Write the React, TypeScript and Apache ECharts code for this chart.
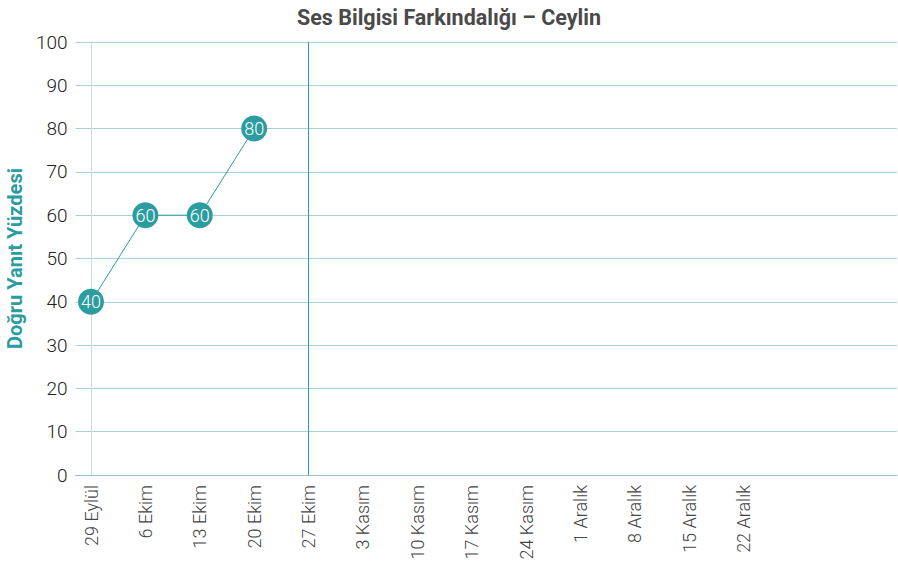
import React, { useEffect, useRef } from "react";
import * as echarts from "echarts";

const categories = [
  "29 Eylül", "6 Ekim", "13 Ekim", "20 Ekim", "27 Ekim", "3 Kasım", "10 Kasım",
  "17 Kasım", "24 Kasım", "1 Aralık", "8 Aralık", "15 Aralık", "22 Aralık",
];
const values = [40, 60, 60, 80];
const phaseLineIndex = 4;
const yTicks = [0, 10, 20, 30, 40, 50, 60, 70, 80, 90, 100];

const TEAL = "#2b9ca0";

export default function App() {
  const ref = useRef<HTMLDivElement>(null);
  useEffect(() => {
    if (!ref.current) return;
    const chart = echarts.init(ref.current, null, { renderer: "svg" });
    chart.setOption({
      animation: false,
      title: {
        text: "Ses Bilgisi Farkındalığı – Ceylin",
        left: "center",
        top: 1,
        textStyle: { fontFamily: "Roboto", fontWeight: "bold", fontSize: 21.5, color: "#4a4a4a" },
      },
      grid: { left: 75.5, top: 42, right: 1, bottom: 93, outerBoundsMode: "none", containLabel: false },
      xAxis: {
        type: "value",
        min: -0.285,
        max: 14.82,
        splitLine: { show: false },
        axisTick: { show: false },
        axisLine: { show: true, lineStyle: { color: "#9dbfc6", width: 1 } },
        axisLabel: {
          customValues: categories.map((_, i) => i),
          rotate: 90,
          margin: 10,
          fontFamily: "Roboto",
          fontWeight: 300,
          fontSize: 18,
          color: "#444",
          formatter: (v: number) => categories[Math.round(v)] ?? "",
        },
      },
      yAxis: {
        type: "value",
        min: yTicks[0],
        max: yTicks[yTicks.length - 1],
        interval: 10,
        name: "Doğru Yanıt Yüzdesi",
        nameLocation: "middle",
        nameRotate: 90,
        nameGap: 45,
        nameTextStyle: { fontFamily: "Roboto", fontWeight: "bold", fontSize: 20, color: TEAL },
        axisLine: { show: true, lineStyle: { color: "#c5dfe3", width: 1 } },
        axisTick: { show: false },
        splitLine: { lineStyle: { color: "#a9d0d5", width: 1 } },
        axisLabel: { fontFamily: "Roboto", fontWeight: 300, fontSize: 19, color: "#222", margin: 8 },
      },
      series: [
        {
          type: "line",
          data: values.map((v, i) => [i, v]),
          symbol: "circle",
          symbolSize: 26,
          itemStyle: { color: TEAL },
          lineStyle: { color: TEAL, width: 1 },
          label: {
            show: true,
            position: "inside",
            color: "#fff",
            fontFamily: "Roboto",
            fontWeight: 300,
            fontSize: 18,
          },
          markLine: {
            silent: true,
            symbol: "none",
            label: { show: false },
            lineStyle: { type: "solid", color: "#2a9ea0", width: 1 },
            data: [{ xAxis: phaseLineIndex }],
          },
          z: 5,
        },
      ],
    });
    return () => chart.dispose();
  }, []);
  return <div ref={ref} style={{ width: 898, height: 568, position: "absolute", left: 0, top: 0 }} />;
}
